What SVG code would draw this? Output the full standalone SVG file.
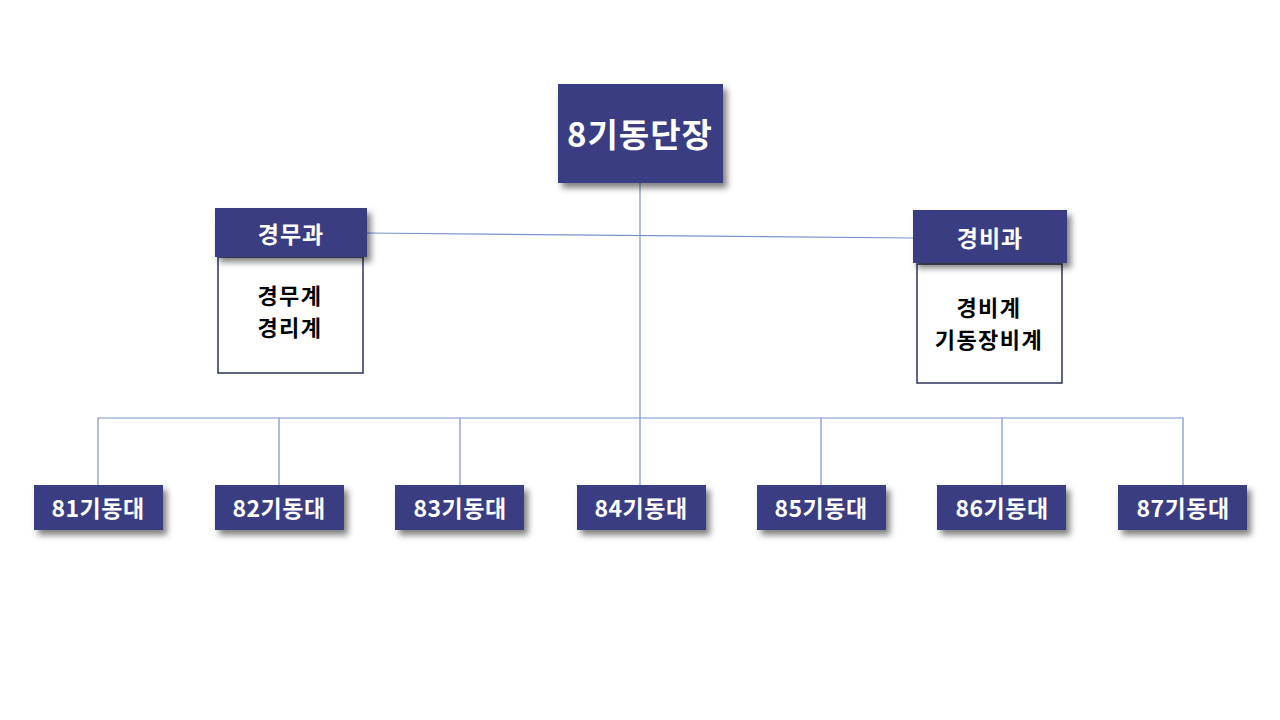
<svg xmlns="http://www.w3.org/2000/svg" width="1280" height="720" viewBox="0 0 1280 720">
<defs>
<filter id="sh" x="-20%" y="-20%" width="150%" height="160%">
<feDropShadow dx="4" dy="5" stdDeviation="3" flood-color="#000" flood-opacity="0.5"/>
</filter>
<style>
.box{fill:#3b3d82;filter:url(#sh)}
.sub{fill:#fff;stroke:#2c3358;stroke-width:1.5}
.w{fill:#fff;font-family:"Noto Sans CJK KR","Noto Sans",sans-serif;font-weight:bold;text-anchor:middle;dominant-baseline:central}
.k{fill:#000;font-family:"Noto Sans CJK KR","Noto Sans",sans-serif;font-weight:bold;text-anchor:middle;font-size:22px;letter-spacing:1.5px}
.ln{stroke:#7a93c9;stroke-width:1.2;fill:none}
</style>
</defs>
<rect width="1280" height="720" fill="#fff"/>
<g id="connectors">
<line class="ln" x1="640" y1="183" x2="640" y2="418"/>
<line class="ln" x1="367" y1="233" x2="913" y2="238"/>
<polyline class="ln" points="98,485 98,418 1183,418 1183,485"/>
<line class="ln" x1="279" y1="418" x2="279" y2="485"/>
<line class="ln" x1="460" y1="418" x2="460" y2="485"/>
<line class="ln" x1="640" y1="418" x2="640" y2="485"/>
<line class="ln" x1="821" y1="418" x2="821" y2="485"/>
<line class="ln" x1="1002" y1="418" x2="1002" y2="485"/>
</g>
<g id="n8">
<rect class="box" x="558" y="84" width="165" height="99"/>
<text class="w" x="640" y="133" font-size="33" letter-spacing="1">8기동단장</text>
</g>
<g id="gyeongmu">
<rect class="sub" x="218" y="257" width="145" height="116"/>
<rect class="box" x="215" y="208" width="152" height="49"/>
<text class="w" x="291" y="233" font-size="23" letter-spacing="1">경무과</text>
<text class="k" x="290" y="304"><tspan x="290">경무계</tspan><tspan x="290" dy="32">경리계</tspan></text>
</g>
<g id="gyeongbi">
<rect class="sub" x="917" y="264" width="145" height="119"/>
<rect class="box" x="913" y="210" width="154" height="53"/>
<text class="w" x="990" y="237" font-size="23" letter-spacing="1">경비과</text>
<text class="k" x="989" y="316"><tspan x="989">경비계</tspan><tspan x="989" dy="32">기동장비계</tspan></text>
</g>
<g id="u81"><rect class="box" x="34" y="485" width="129" height="45"/><text class="w" x="98" y="507" font-size="23" letter-spacing="0.5">81기동대</text></g>
<g id="u82"><rect class="box" x="215" y="485" width="129" height="45"/><text class="w" x="279" y="507" font-size="23" letter-spacing="0.5">82기동대</text></g>
<g id="u83"><rect class="box" x="395" y="485" width="129" height="45"/><text class="w" x="460" y="507" font-size="23" letter-spacing="0.5">83기동대</text></g>
<g id="u84"><rect class="box" x="577" y="485" width="129" height="45"/><text class="w" x="641" y="507" font-size="23" letter-spacing="0.5">84기동대</text></g>
<g id="u85"><rect class="box" x="757" y="485" width="129" height="45"/><text class="w" x="821" y="507" font-size="23" letter-spacing="0.5">85기동대</text></g>
<g id="u86"><rect class="box" x="937" y="485" width="129" height="45"/><text class="w" x="1002" y="507" font-size="23" letter-spacing="0.5">86기동대</text></g>
<g id="u87"><rect class="box" x="1118" y="485" width="129" height="45"/><text class="w" x="1183" y="507" font-size="23" letter-spacing="0.5">87기동대</text></g>
</svg>
